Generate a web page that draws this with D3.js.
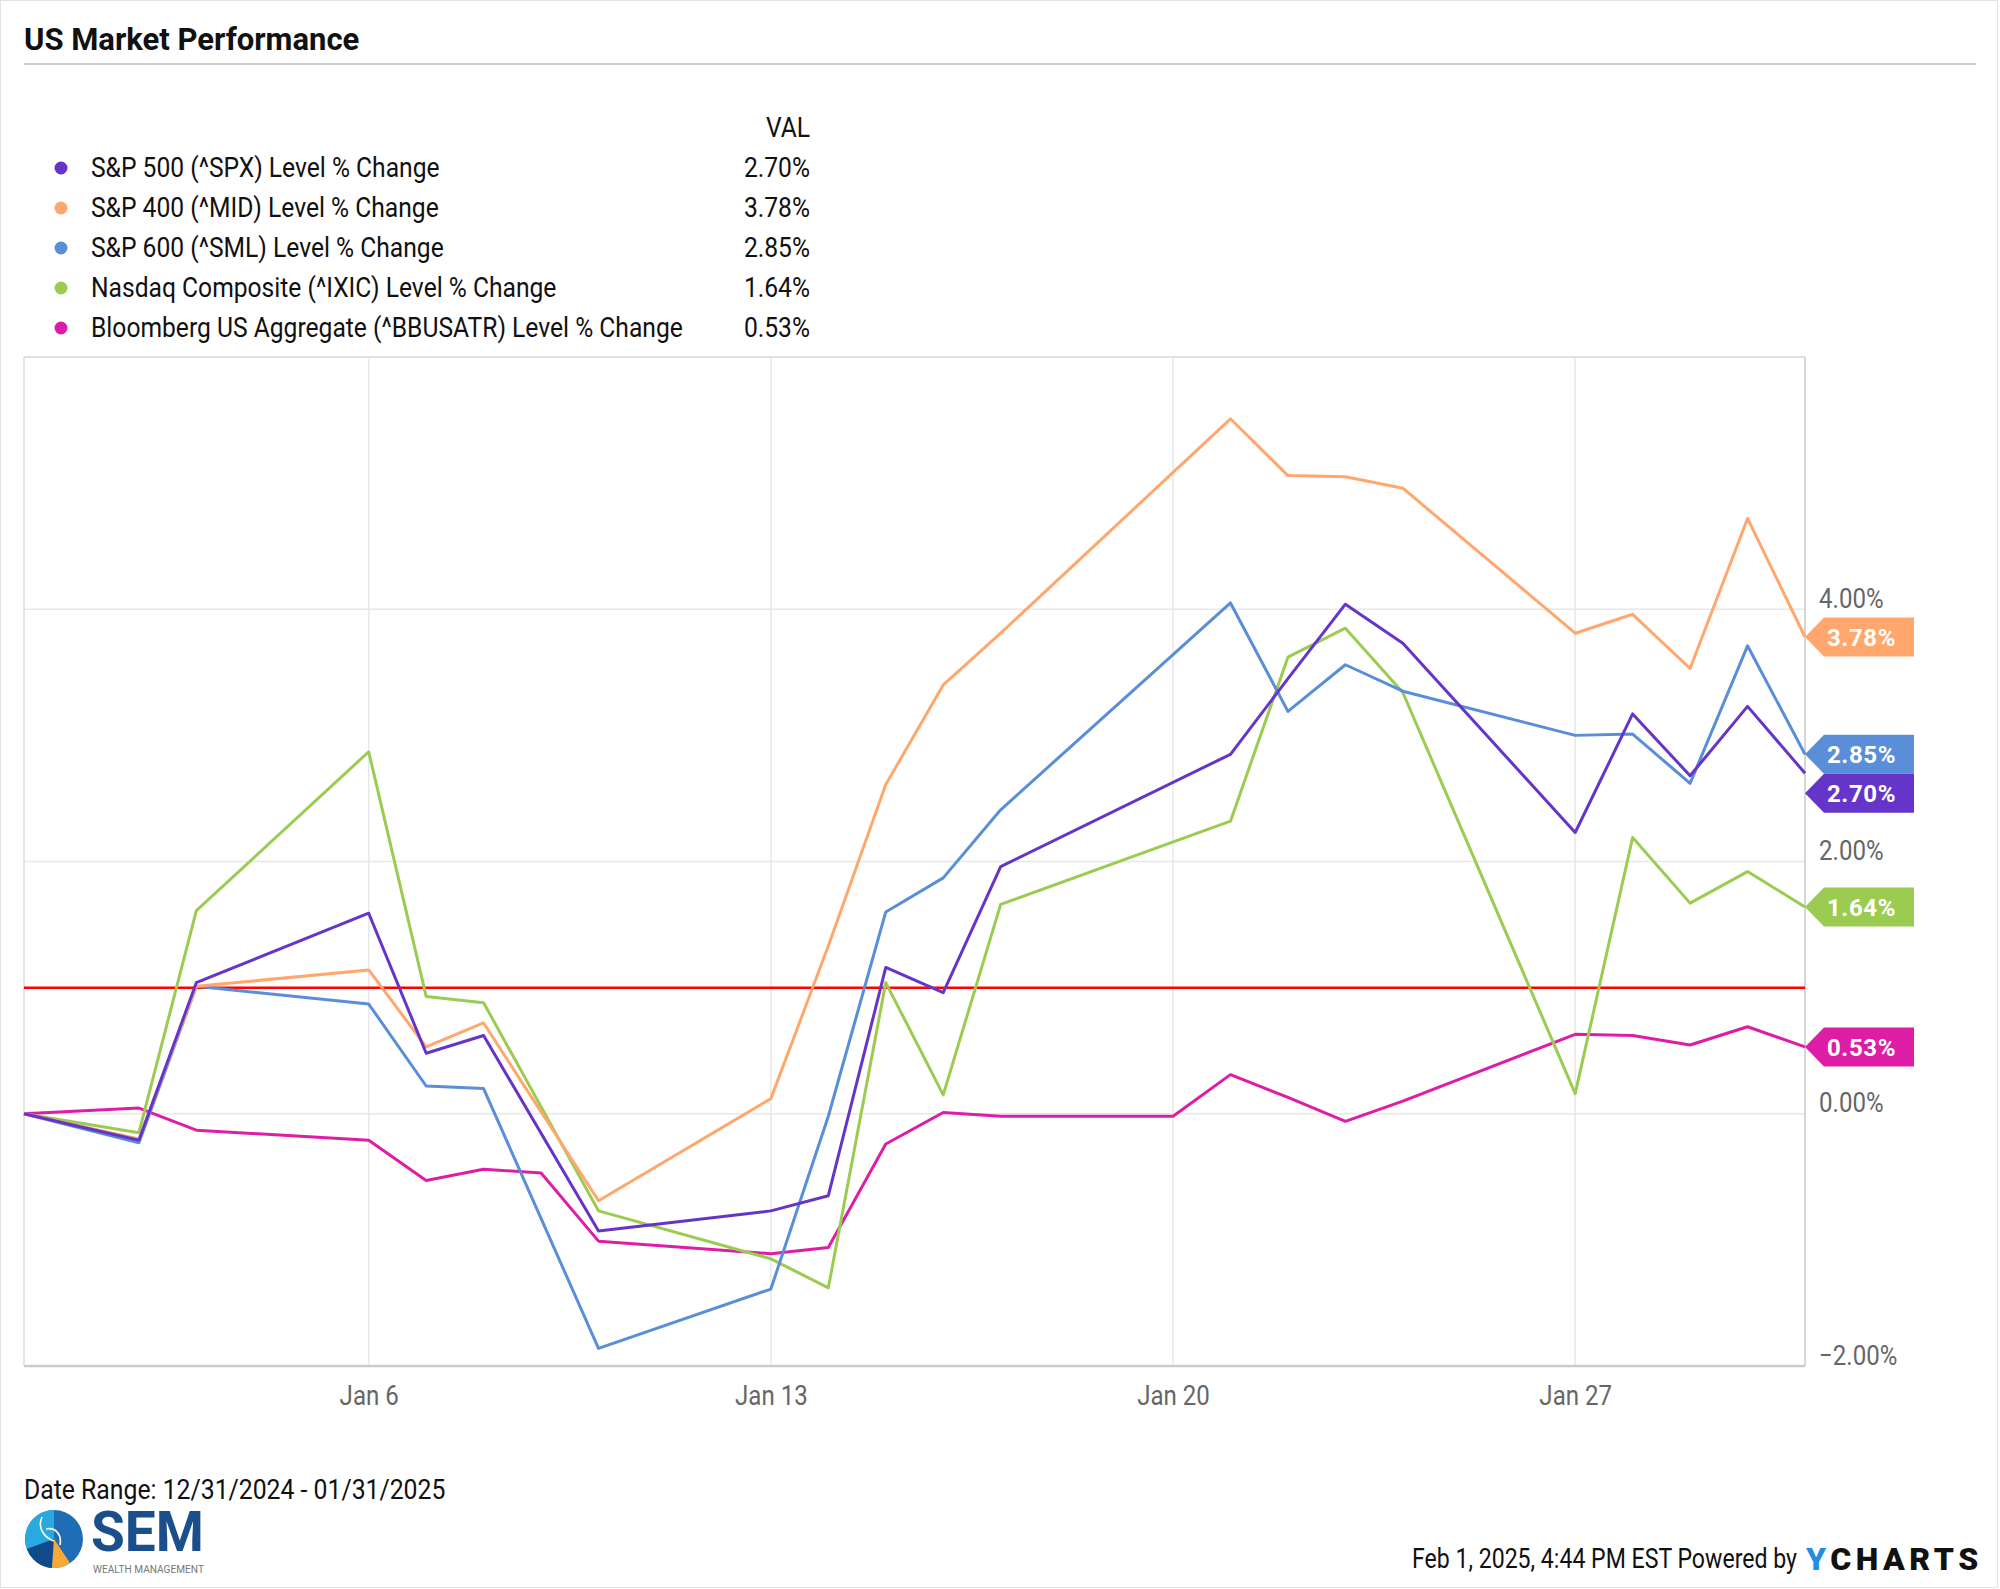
<!DOCTYPE html>
<html>
<head>
<meta charset="utf-8">
<script src="https://cdn.jsdelivr.net/npm/d3@7"></script>
<style>
  body { margin: 0; background: #fff; }
  svg { font-family: Roboto, "Noto Sans", sans-serif; }
</style>
</head>
<body>
<svg id="chart" width="2000" height="1589"></svg>
<script>
// --- Data (percent change since 12/31/2024), null = no trading that day
const dates = ["2024-12-31", "2025-01-02", "2025-01-03", "2025-01-06", "2025-01-07", "2025-01-08",
  "2025-01-09", "2025-01-10", "2025-01-13", "2025-01-14", "2025-01-15", "2025-01-16", "2025-01-17",
  "2025-01-20", "2025-01-21", "2025-01-22", "2025-01-23", "2025-01-24", "2025-01-27", "2025-01-28",
  "2025-01-29", "2025-01-30", "2025-01-31"];

const spx  = [0, -0.21, 1.04, 1.59, 0.48, 0.62, null, -0.93, -0.77, -0.65, 1.16, 0.96, 1.96, null, 2.85, 3.45, 4.04, 3.73, 2.23, 3.17, 2.68, 3.23, 2.70];
const mid  = [0, -0.20, 1.01, 1.14, 0.53, 0.72, null, -0.69, 0.12, 1.33, 2.61, 3.40, 3.81, null, 5.51, 5.06, 5.05, 4.96, 3.81, 3.96, 3.53, 4.72, 3.78];
const sml  = [0, -0.23, 1.01, 0.87, 0.22, 0.20, null, -1.86, -1.39, -0.02, 1.60, 1.87, 2.41, null, 4.05, 3.19, 3.56, 3.35, 3.00, 3.01, 2.62, 3.71, 2.85];
const ixic = [0, -0.15, 1.61, 2.87, 0.93, 0.88, null, -0.77, -1.15, -1.38, 1.04, 0.15, 1.66, null, 2.32, 3.62, 3.85, 3.34, 0.16, 2.19, 1.67, 1.92, 1.64];
const agg  = [0, 0.045, -0.13, -0.21, -0.53, -0.44, -0.47, -1.01, -1.11, -1.06, -0.24, 0.01, -0.02, -0.02, 0.31, 0.13, -0.06, 0.10, 0.63, 0.62, 0.545, 0.69, 0.53];

const seriesNames = [
  "S&P 500 (^SPX) Level % Change",
  "S&P 400 (^MID) Level % Change",
  "S&P 600 (^SML) Level % Change",
  "Nasdaq Composite (^IXIC) Level % Change",
  "Bloomberg US Aggregate (^BBUSATR) Level % Change"
];
const seriesValues = [spx, mid, sml, ixic, agg];
const seriesColors = ["#6535c9", "#ffa76d", "#5a8ed8", "#9ccb51", "#de1da6"];

const yTicks = [-2, 0, 2, 4];
const xTicks = ["2025-01-06", "2025-01-13", "2025-01-20", "2025-01-27"];
const refLevel = 1;

const svg = d3.select("#chart");
const W = 2000, H = 1589;
const plot = { left: 24, right: 1805, top: 357, bottom: 1366 };
const K = 0.86; // horizontal squeeze for the narrow text face

const parse = d3.utcParse("%Y-%m-%d");
const fmtPct = d => d3.format(".2f")(d) + "%";

const x = d3.scaleUtc()
  .domain([parse(dates[0]), parse(dates[dates.length - 1])])
  .range([plot.left, plot.right]);
const y = d3.scaleLinear().domain([-2, 6]).range([plot.bottom, plot.top]);

function squeeze(sel, tx, ty, k = K) {
  return sel.attr("transform", `translate(${tx},${ty}) scale(${k},1)`);
}

// --- Page frame
svg.append("rect").attr("x", 0.5).attr("y", 0.5).attr("width", W - 3).attr("height", H - 2)
  .attr("fill", "#fff").attr("stroke", "#e2e2e2");

// --- Title
svg.append("text").attr("x", 24).attr("y", 50)
  .attr("font-size", 31).attr("font-weight", 700).attr("fill", "#111")
  .text("US Market Performance");
svg.append("line").attr("x1", 24).attr("x2", 1976).attr("y1", 64).attr("y2", 64)
  .attr("stroke", "#cfcfcf").attr("stroke-width", 2);

// --- Legend
const legend = svg.append("g");
squeeze(legend.append("text"), 810, 137, 0.88).attr("text-anchor", "end")
  .attr("font-size", 28).attr("fill", "#111").text("VAL");

seriesNames.forEach((name, i) => {
  const by = 177 + i * 40;
  legend.append("circle").attr("cx", 61).attr("cy", by - 9).attr("r", 6.5).attr("fill", seriesColors[i]);
  squeeze(legend.append("text"), 91, by, 0.88).attr("font-size", 28).attr("fill", "#111").text(name);
  const vals = seriesValues[i];
  squeeze(legend.append("text"), 810, by, 0.88).attr("text-anchor", "end")
    .attr("font-size", 28).attr("fill", "#111").text(fmtPct(vals[vals.length - 1]));
});

// --- Grid
const grid = svg.append("g");
grid.selectAll(".hgrid").data(yTicks.concat([6])).enter().append("line")
  .attr("x1", plot.left).attr("x2", plot.right)
  .attr("y1", d => y(d)).attr("y2", d => y(d))
  .attr("stroke", "#e8e8e8").attr("stroke-width", 1.5);
grid.selectAll(".vgrid").data(xTicks).enter().append("line")
  .attr("x1", d => x(parse(d))).attr("x2", d => x(parse(d)))
  .attr("y1", plot.top).attr("y2", plot.bottom)
  .attr("stroke", "#e8e8e8").attr("stroke-width", 1.5);

// plot borders
svg.append("line").attr("x1", plot.left).attr("x2", plot.left).attr("y1", plot.top).attr("y2", plot.bottom)
  .attr("stroke", "#dcdcdc").attr("stroke-width", 1.5);
svg.append("line").attr("x1", plot.right).attr("x2", plot.right).attr("y1", plot.top).attr("y2", plot.bottom)
  .attr("stroke", "#c8c8c8").attr("stroke-width", 1.5);
svg.append("line").attr("x1", plot.left).attr("x2", plot.right).attr("y1", plot.top).attr("y2", plot.top)
  .attr("stroke", "#dcdcdc").attr("stroke-width", 1.5);
svg.append("line").attr("x1", plot.left).attr("x2", plot.right).attr("y1", plot.bottom).attr("y2", plot.bottom)
  .attr("stroke", "#cccccc").attr("stroke-width", 2.5);

// --- Axes
const xAxis = svg.append("g").attr("transform", `translate(0,${plot.bottom})`)
  .call(d3.axisBottom(x).tickValues(xTicks.map(parse)).tickFormat(d3.utcFormat("%b %-d")).tickSize(0));
xAxis.select(".domain").remove();
xAxis.selectAll("text").attr("y", 0).attr("dy", null)
  .attr("transform", `translate(0,39) scale(${K},1)`)
  .attr("font-size", 28).attr("font-family", "Roboto").attr("fill", "#666");

const yAxis = svg.append("g").attr("transform", `translate(${plot.right},0)`)
  .call(d3.axisRight(y).tickValues(yTicks).tickFormat(fmtPct).tickSize(0));
yAxis.select(".domain").remove();
yAxis.selectAll("text").attr("x", 0).attr("dy", null)
  .attr("transform", `translate(14,-2) scale(${K},1)`)
  .attr("font-size", 28).attr("font-family", "Roboto").attr("fill", "#666");

// --- Reference line
svg.append("line").attr("x1", plot.left).attr("x2", plot.right)
  .attr("y1", y(refLevel)).attr("y2", y(refLevel))
  .attr("stroke", "#ff0000").attr("stroke-width", 2.5);

// --- Series lines
const line = d3.line().x(d => x(d.date)).y(d => y(d.value));
const series = seriesValues.map((vals, i) => ({
  color: seriesColors[i],
  points: vals.map((v, j) => ({ date: parse(dates[j]), value: v })).filter(d => d.value !== null)
}));

svg.append("g").selectAll(".series").data(series.slice().reverse()).enter().append("path")
  .attr("fill", "none").attr("stroke", d => d.color).attr("stroke-width", 3)
  .attr("stroke-linejoin", "round")
  .attr("d", d => line(d.points));

// --- End-of-line value tags (pushed apart when they overlap)
const tagH = 39, tipW = 19, tagW = 109;
const tags = series.map(s => {
  const last = s.points[s.points.length - 1];
  return { color: s.color, value: last.value, y: y(last.value) };
}).sort((a, b) => a.y - b.y);
for (let i = 1; i < tags.length; i++) {
  if (tags[i].y < tags[i - 1].y + tagH) tags[i].y = tags[i - 1].y + tagH;
}
const tagG = svg.append("g").selectAll(".tag").data(tags).enter().append("g")
  .attr("transform", d => `translate(${plot.right},${d.y})`);
tagG.append("path")
  .attr("d", `M0,0 L${tipW},${-tagH / 2} L${tagW},${-tagH / 2} L${tagW},${tagH / 2} L${tipW},${tagH / 2} Z`)
  .attr("fill", d => d.color);
tagG.append("text").attr("x", 22).attr("y", 9)
  .attr("font-size", 24).attr("font-weight", 700).attr("fill", "#fff").attr("letter-spacing", 0.6)
  .text(d => fmtPct(d.value));

// --- Footer
squeeze(svg.append("text"), 24, 1499, 0.885).attr("font-size", 28).attr("fill", "#111")
  .text("Date Range: 12/31/2024 - 01/31/2025");

const logo = svg.append("g").attr("transform", "translate(54,1539)");
logo.append("circle").attr("r", 29).attr("fill", "#1f6db5");
logo.append("path").attr("d", "M0,-29 A29,29 0 0,0 -27,10 L0,0 Z").attr("fill", "#2aa9e1");
logo.append("path").attr("d", "M-27,10 A29,29 0 0,0 -2,29 L0,0 Z").attr("fill", "#0f4a8a");
logo.append("path").attr("d", "M0,0 L-2,29 A29,29 0 0,0 16,24 Z").attr("fill", "#f6aa35");
logo.append("path").attr("d", "M-12,-22 C-18,-8 -6,0 0,2 M-8,-10 C2,-12 8,-4 6,6")
  .attr("fill", "none").attr("stroke", "#fff").attr("stroke-width", 1.6);
svg.append("text").attr("x", 91).attr("y", 1551)
  .attr("font-size", 55).attr("font-weight", 700).attr("fill", "#1a4f8b").text("SEM");
svg.append("text").attr("x", 93).attr("y", 1573)
  .attr("font-size", 10).attr("fill", "#777").attr("textLength", 111).attr("lengthAdjust", "spacingAndGlyphs")
  .text("WEALTH MANAGEMENT");

squeeze(svg.append("text"), 1797, 1568, 0.825).attr("text-anchor", "end").attr("font-size", 28).attr("fill", "#111")
  .text("Feb 1, 2025, 4:44 PM EST Powered by");
const yc = svg.append("text").attr("x", 1806).attr("y", 1570)
  .attr("font-size", 32).attr("font-weight", 900).attr("letter-spacing", 4.5).attr("fill", "#111");
yc.append("tspan").attr("fill", "#1e8fe4").text("Y");
yc.append("tspan").text("CHARTS");
</script>
</body>
</html>
